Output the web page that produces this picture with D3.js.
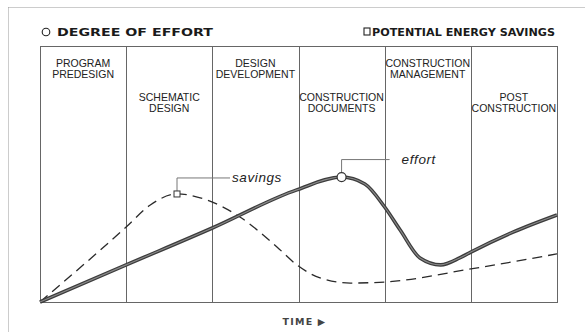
<!DOCTYPE html>
<html>
<head>
<meta charset="utf-8">
<script src="https://cdn.jsdelivr.net/npm/d3@7"></script>
<style>
  body { margin: 0; background: #fff; }
</style>
</head>
<body>
<div id="chart-area"></div>
<script>
// ---------- data ----------
const phaseLines = [
  ["PROGRAM", "PREDESIGN"],
  ["SCHEMATIC", "DESIGN"],
  ["DESIGN", "DEVELOPMENT"],
  ["CONSTRUCTION", "DOCUMENTS"],
  ["CONSTRUCTION", "MANAGEMENT"],
  ["POST", "CONSTRUCTION"]
];
// effort curve (time in phases, level 0-100)
const effortTime  = [0, 1.0, 2.0, 2.98, 3.5, 3.77, 4.0, 4.18, 4.41, 4.65, 4.87, 5.0, 5.49, 6.0];
const effortLevel = [0, 14.5, 28.9, 43.8, 48.8, 46.1, 37.1, 28.1, 17.2, 14.5, 17.2, 19.5, 27.3, 34.0];
// potential energy savings curve
const savingsTime  = [0, 0.70, 1.0, 1.28, 1.59, 1.94, 2.32, 2.75, 2.98, 3.25, 3.6, 4.0, 5.0, 6.0];
const savingsLevel = [0, 20.3, 29.3, 37.9, 42.2, 39.8, 33.2, 21.5, 14.5, 9.4, 7.4, 7.8, 12.9, 18.8];
// where the callouts sit
const effortPeak = 4;   // index in effort arrays
const savingsPeak = 4;  // index in savings arrays

const legendItems = ["DEGREE OF EFFORT", "POTENTIAL ENERGY SAVINGS"];
const axisLabel = "TIME \u25B6";

// ---------- layout ----------
const width = 585, height = 335;
const plot = {left: 40, right: 557, top: 46, bottom: 302};

const svg = d3.select("#chart-area")
  .append("svg")
  .attr("width", width)
  .attr("height", height);

svg.append("rect").attr("width", width).attr("height", height).attr("fill", "#fff");

// outer dotted frame (left + top only visible)
svg.append("line")
  .attr("x1", 8.5).attr("x2", 8.5).attr("y1", 7.5).attr("y2", 332)
  .attr("stroke", "#999").attr("stroke-dasharray", "1,1");
svg.append("line")
  .attr("x1", 8.5).attr("x2", width).attr("y1", 7.5).attr("y2", 7.5)
  .attr("stroke", "#999").attr("stroke-dasharray", "1,1");

// scales
const x = d3.scaleLinear().domain([0, phaseLines.length]).range([plot.left, plot.right]);
const y = d3.scaleLinear().domain([0, 100]).range([plot.bottom, plot.top]);

// ---------- phase columns ----------
const g = svg.append("g");

g.append("rect")
  .attr("x", plot.left + 0.5).attr("y", plot.top + 0.5)
  .attr("width", plot.right - plot.left).attr("height", plot.bottom - plot.top)
  .attr("fill", "none").attr("stroke", "#666").attr("stroke-width", 1);

g.selectAll(".divider")
  .data(d3.range(1, phaseLines.length))
  .enter().append("line")
  .attr("class", "divider")
  .attr("x1", d => Math.round(x(d)) + 0.5).attr("x2", d => Math.round(x(d)) + 0.5)
  .attr("y1", plot.top).attr("y2", plot.bottom)
  .attr("stroke", "#666").attr("stroke-width", 1);

// labels alternate between an upper and a lower row
const labelRowY = [67, 101];
g.selectAll(".phase-label")
  .data(phaseLines)
  .enter().append("text")
  .attr("class", "phase-label")
  .attr("x", (d, i) => x(i + 0.5))
  .attr("y", (d, i) => labelRowY[i % 2])
  .attr("text-anchor", "middle")
  .attr("font-family", "'Liberation Sans', Arial, sans-serif")
  .attr("font-size", "10.5px")
  .attr("fill", "#222")
  .each(function(d) {
    const t = d3.select(this);
    d.forEach((line, k) => {
      t.append("tspan")
        .attr("x", t.attr("x"))
        .attr("dy", k === 0 ? 0 : 11)
        .text(line);
    });
  });

// ---------- curves ----------
const effortData = effortTime.map((t, i) => ({t: t, v: effortLevel[i]}));
const savingsData = savingsTime.map((t, i) => ({t: t, v: savingsLevel[i]}));

const line = d3.line()
  .x(d => x(d.t))
  .y(d => y(d.v))
  .curve(d3.curveMonotoneX);

g.append("path")
  .datum(savingsData)
  .attr("d", line)
  .attr("fill", "none")
  .attr("stroke", "#2a2a2a")
  .attr("stroke-width", 1.3)
  .attr("stroke-dasharray", "10,6");

g.append("path")
  .datum(effortData)
  .attr("d", line)
  .attr("fill", "none")
  .attr("stroke", "#3c3c3c")
  .attr("stroke-width", 3.6);
g.append("path")
  .datum(effortData)
  .attr("d", line)
  .attr("fill", "none")
  .attr("stroke", "#8a8a8a")
  .attr("stroke-width", 1.1);

// ---------- callouts ----------
function callout(px, py, lineEnd, label, textX) {
  const cy = py - 13;
  g.append("path")
    .attr("d", `M${px},${py} V${cy} H${lineEnd}`)
    .attr("fill", "none")
    .attr("stroke", "#777")
    .attr("stroke-width", 1);
  g.append("text")
    .attr("x", textX).attr("y", cy + 4.5)
    .attr("font-family", "'Liberation Sans', Arial, sans-serif")
    .attr("font-style", "italic")
    .attr("font-size", "13.5px")
    .attr("letter-spacing", "0.6px")
    .attr("fill", "#222")
    .text(label);
}

const sp = savingsData[savingsPeak];
callout(x(sp.t), y(sp.v) - 3, x(sp.t) + 53, "savings", x(sp.t) + 55);
g.append("rect")
  .attr("x", x(sp.t) - 3).attr("y", y(sp.v) - 3)
  .attr("width", 6).attr("height", 6)
  .attr("fill", "#fff").attr("stroke", "#333").attr("stroke-width", 1);

const ep = effortData[effortPeak];
callout(x(ep.t), y(ep.v) - 4.5, x(ep.t) + 48, "effort", x(ep.t) + 60);
g.append("circle")
  .attr("cx", x(ep.t)).attr("cy", y(ep.v))
  .attr("r", 4.5)
  .attr("fill", "#fff").attr("stroke", "#333").attr("stroke-width", 1.2);

// ---------- legend ----------
const legendFont = "'DejaVu Sans', Verdana, sans-serif";
svg.append("circle")
  .attr("cx", 46).attr("cy", 32).attr("r", 3.8)
  .attr("fill", "none").attr("stroke", "#222").attr("stroke-width", 1.1);
svg.append("text")
  .attr("x", 57).attr("y", 36)
  .attr("font-family", legendFont).attr("font-weight", "bold")
  .attr("font-size", "11px").attr("fill", "#1a1a1a")
  .attr("textLength", 156).attr("lengthAdjust", "spacingAndGlyphs")
  .text(legendItems[0]);

svg.append("rect")
  .attr("x", 364).attr("y", 28).attr("width", 6).attr("height", 7)
  .attr("fill", "none").attr("stroke", "#222").attr("stroke-width", 1.1);
svg.append("text")
  .attr("x", 372).attr("y", 36)
  .attr("font-family", legendFont).attr("font-weight", "bold")
  .attr("font-size", "11px").attr("fill", "#1a1a1a")
  .attr("textLength", 183).attr("lengthAdjust", "spacingAndGlyphs")
  .text(legendItems[1]);

// axis label
svg.append("text")
  .attr("x", (plot.left + plot.right) / 2 + 6).attr("y", 325)
  .attr("text-anchor", "middle")
  .attr("font-family", legendFont).attr("font-weight", "bold")
  .attr("font-size", "9.5px").attr("letter-spacing", "1.2px")
  .attr("fill", "#444")
  .text(axisLabel);
</script>
</body>
</html>
